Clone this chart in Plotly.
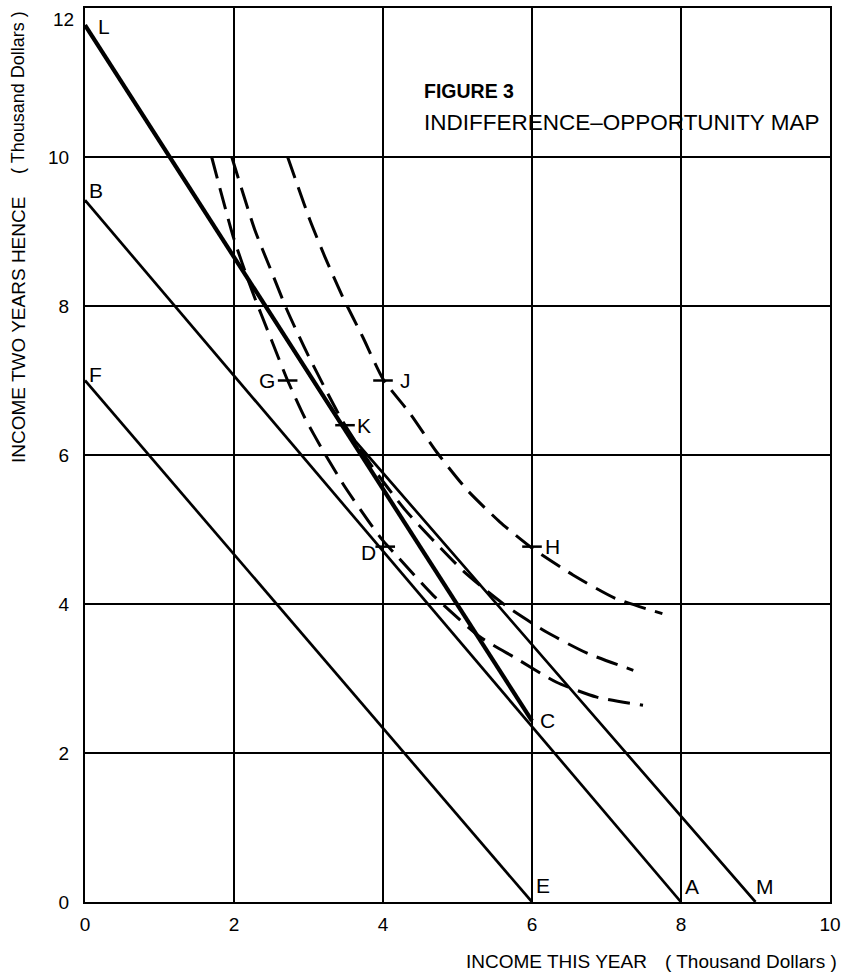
import plotly.graph_objects as go

# Market lines: income this year (x) vs income two years hence (y), thousand dollars
line_FE_x = [0, 6]
line_FE_y = [7.0, 0]
line_BA_x = [0, 8]
line_BA_y = [9.42, 0]

# Investment opportunity line L-C
line_LC_x = [0, 6]
line_LC_y = [11.77, 2.43]

# Market line reached through K after investing (L-K-M)
line_LKM_x = [0, 3.46, 9]
line_LKM_y = [11.77, 6.38, 0]

# Indifference curves
curve_GD_x = [1.70, 1.99, 2.24, 2.50, 2.72, 2.95, 3.20, 3.49, 3.80, 4.00, 4.20, 4.67, 5.30, 5.77, 6.33, 6.87, 7.49]
curve_GD_y = [10.0, 8.93, 8.21, 7.55, 7.00, 6.50, 6.05, 5.57, 5.12, 4.85, 4.63, 4.12, 3.56, 3.28, 2.95, 2.75, 2.64]

curve_K_x = [1.97, 2.28, 2.48, 2.71, 2.98, 3.46, 3.90, 4.30, 4.65, 5.07, 5.40, 5.70, 6.20, 6.74, 7.36]
curve_K_y = [10.0, 9.02, 8.52, 7.95, 7.37, 6.45, 5.78, 5.26, 4.88, 4.45, 4.17, 3.94, 3.62, 3.34, 3.11]

curve_JH_x = [2.72, 2.86, 3.02, 3.22, 3.46, 3.73, 4.00, 4.36, 4.72, 5.13, 5.57, 6.00, 6.55, 7.11, 7.75]
curve_JH_y = [10.0, 9.60, 9.15, 8.66, 8.12, 7.58, 7.02, 6.56, 6.04, 5.53, 5.10, 4.75, 4.39, 4.08, 3.87]

# Lettered points
point_names = ["L", "B", "F", "E", "A", "M", "C", "D", "G", "J", "K", "H"]
point_x = [0, 0, 0, 6, 8, 9, 6, 4.03, 2.72, 4.0, 3.49, 6.0]
point_y = [11.77, 9.42, 7.0, 0, 0, 0, 2.43, 4.77, 7.0, 7.0, 6.40, 4.77]
# points that carry a small tick mark on the curves
ticked_points = ["D", "G", "J", "K", "H"]

x_ticks = [0, 2, 4, 6, 8, 10]
y_ticks = [0, 2, 4, 6, 8, 10, 12]

SANS = "Liberation Sans, Arial, sans-serif"
Y_MAX = 12

fig = go.Figure()

solid = dict(color="black", width=2.7)
for xs, ys in [(line_FE_x, line_FE_y), (line_BA_x, line_BA_y), (line_LKM_x, line_LKM_y)]:
    fig.add_trace(go.Scatter(x=xs, y=ys, mode="lines", line=solid, hoverinfo="skip"))
fig.add_trace(go.Scatter(x=line_LC_x, y=line_LC_y, mode="lines",
                         line=dict(color="black", width=4.2), hoverinfo="skip"))

dashed = dict(color="black", width=3, dash="22px,10px", shape="spline", smoothing=0.6)
for xs, ys in [(curve_GD_x, curve_GD_y), (curve_K_x, curve_K_y), (curve_JH_x, curve_JH_y)]:
    fig.add_trace(go.Scatter(x=xs, y=ys, mode="lines", line=dashed, hoverinfo="skip"))

tick_idx = [point_names.index(n) for n in ticked_points]
fig.add_trace(go.Scatter(
    x=[point_x[i] for i in tick_idx], y=[point_y[i] for i in tick_idx],
    mode="markers",
    marker=dict(symbol="line-ew", size=14, line=dict(color="black", width=2.5)),
    hoverinfo="skip"))

# label offsets in pixels from each point
label_shift = {
    "L": (19, -1), "B": (11, 10), "F": (10, 6), "E": (11, 17), "A": (11, 16),
    "M": (9, 16), "C": (15, 0), "D": (-17, -6), "G": (-21, 0), "J": (22, 0),
    "K": (19, 0), "H": (20, 0),
}
for name, px, py in zip(point_names, point_x, point_y):
    dx, dy = label_shift[name]
    fig.add_annotation(x=px, y=py, text=name, showarrow=False, xshift=dx, yshift=dy,
                       font=dict(family=SANS, size=21, color="black"))

fig.add_annotation(x=4.52, y=10.88, xanchor="left", yanchor="middle", text="<b>FIGURE 3</b>",
                   showarrow=False, font=dict(family=SANS, size=19.5, color="black"))
fig.add_annotation(x=4.52, y=10.46, xanchor="left", yanchor="middle",
                   text="INDIFFERENCE\u2013OPPORTUNITY MAP",
                   showarrow=False, font=dict(family=SANS, size=22.5, color="black"))

# axis titles
title_font = dict(family=SANS, size=19, color="black")
fig.add_annotation(xref="paper", yref="paper", x=(556 - 85) / 745, y=(902 - 962) / 894,
                   xanchor="center", yanchor="middle",
                   text="INCOME THIS YEAR", showarrow=False, font=title_font)
fig.add_annotation(xref="paper", yref="paper", x=(751 - 85) / 745, y=(902 - 962) / 894,
                   xanchor="center", yanchor="middle",
                   text="( Thousand Dollars )", showarrow=False, font=title_font)
fig.add_annotation(xref="paper", yref="paper", x=(18 - 85) / 745, y=(902 - 330) / 894,
                   xanchor="center", yanchor="middle",
                   text="INCOME TWO YEARS HENCE", showarrow=False, textangle=-90,
                   font=title_font)
fig.add_annotation(xref="paper", yref="paper", x=(18 - 85) / 745, y=(902 - 93) / 894,
                   xanchor="center", yanchor="middle",
                   text="( Thousand Dollars )", showarrow=False, textangle=-90,
                   font=dict(family=SANS, size=18, color="black"))

tick_font = dict(family=SANS, size=19, color="black")
axis_style = dict(showgrid=True, gridcolor="black", gridwidth=2, showline=True,
                  linecolor="black", linewidth=2, mirror=True, zeroline=False,
                  ticks="", tickfont=tick_font, automargin=False)
fig.update_xaxes(range=[0, 10], tickvals=x_ticks, ticktext=[str(v) for v in x_ticks],
                 ticklabelstandoff=4, ticklabeloverflow="allow", **axis_style)

# the top y label sits just under the frame's top edge, the rest on their gridlines
y_inner = [v for v in y_ticks if v < Y_MAX]
fig.update_yaxes(range=[0, Y_MAX], tickvals=y_inner, ticktext=[str(v) for v in y_inner],
                 ticklabelstandoff=10, **axis_style)
for v in y_ticks:
    if v >= Y_MAX:
        fig.add_annotation(xref="paper", x=0, y=v, text=str(v), showarrow=False,
                           xanchor="right", yanchor="top", xshift=-9, yshift=1,
                           font=tick_font)

fig.update_layout(width=841, height=978, margin=dict(l=85, r=11, t=8, b=76),
                  plot_bgcolor="white", paper_bgcolor="white", showlegend=False)

fig.write_html("out.html")
